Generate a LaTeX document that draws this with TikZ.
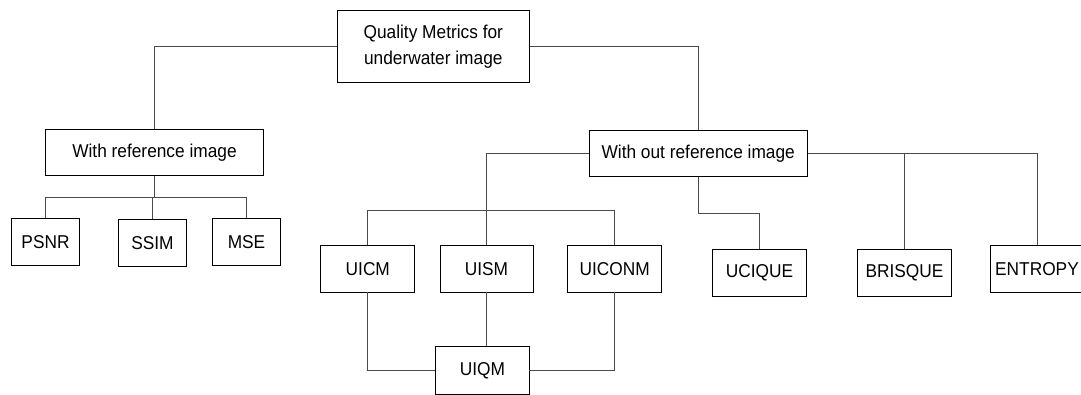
\documentclass[tikz,border=0pt]{standalone}
\usepackage{fontspec}
\setmainfont{Liberation Sans}[FakeStretch=0.93]
\definecolor{wire}{HTML}{4A4A4A}
\begin{document}
\begin{tikzpicture}[x=1pt,y=-1pt,
  box/.style={draw=black,line width=0.8pt,rectangle,inner sep=0pt,
    font=\fontsize{18.6}{26.5}\selectfont,align=center},
  link/.style={draw=wire,line width=0.9pt}]
\useasboundingbox (0,0) rectangle (1081,394);
\clip (0,0) rectangle (1081,394);

% top level
\node[box,minimum width=192pt,minimum height=72pt] (root) at (433.3,46.7)
  {Quality Metrics for\\underwater image};
\node[box,minimum width=217.6pt,minimum height=46pt] (withref) at (154.5,152.3)
  {With reference image};
\node[box,minimum width=218.3pt,minimum height=46.7pt] (without) at (698.2,153.3)
  {With out reference image};

% full-reference metrics
\node[box,minimum width=67.6pt,minimum height=47pt] (psnr) at (45.5,242.2) {PSNR};
\node[box,minimum width=68.4pt,minimum height=47.4pt] (ssim) at (152.5,243) {SSIM};
\node[box,minimum width=68.4pt,minimum height=47pt] (mse) at (246.5,242.2) {MSE};

% no-reference metrics
\node[box,minimum width=94pt,minimum height=46.7pt] (uicm) at (367.8,268.7) {UICM};
\node[box,minimum width=93pt,minimum height=46.7pt] (uism) at (486.5,268.7) {UISM};
\node[box,minimum width=94pt,minimum height=46.7pt] (uiconm) at (614.6,268.7) {UICONM};
\node[box,minimum width=93.3pt,minimum height=48pt] (uiqm) at (482.4,370.7) {UIQM};
\node[box,minimum width=94.2pt,minimum height=47pt] (ucique) at (759.5,272.8) {UCIQUE};
\node[box,minimum width=93.8pt,minimum height=47pt] (brisque) at (904.5,272.8) {BRISQUE};
\node[box,minimum width=94pt,minimum height=46.7pt] (entropy) at (1037,268.7) {ENTROPY};

% bus levels
\coordinate (busA) at (0,197.7);
\coordinate (busB) at (0,210.7);
\coordinate (busC) at (0,213.3);

% root to the two groups
\draw[link] (root.west) -| (withref.north);
\draw[link] (root.east) -| (without.north);

% with reference
\draw[link] (withref.south) -- (withref.south |- busA);
\draw[link] (psnr.north) |- (busA -| mse.north) -- (mse.north);
\draw[link] (ssim.north) -- (ssim.north |- busA);

% without reference
\draw[link] (without.west) -| (uism.north);
\draw[link] (uicm.north) |- (busB -| uiconm.north) -- (uiconm.north);
\draw[link] (without.south) -- (without.south |- busC) -| (ucique.north);
\draw[link] (without.east) -| (entropy.north);
\draw[link] (brisque.north) -- (brisque.north |- without.east);

% components of UIQM
\draw[link] (uicm.south) |- (uiqm.west);
\draw[link] (uiconm.south) |- (uiqm.east);
\draw[link] (uism.south) -- (uism.south |- uiqm.north);
\end{tikzpicture}
\end{document}
